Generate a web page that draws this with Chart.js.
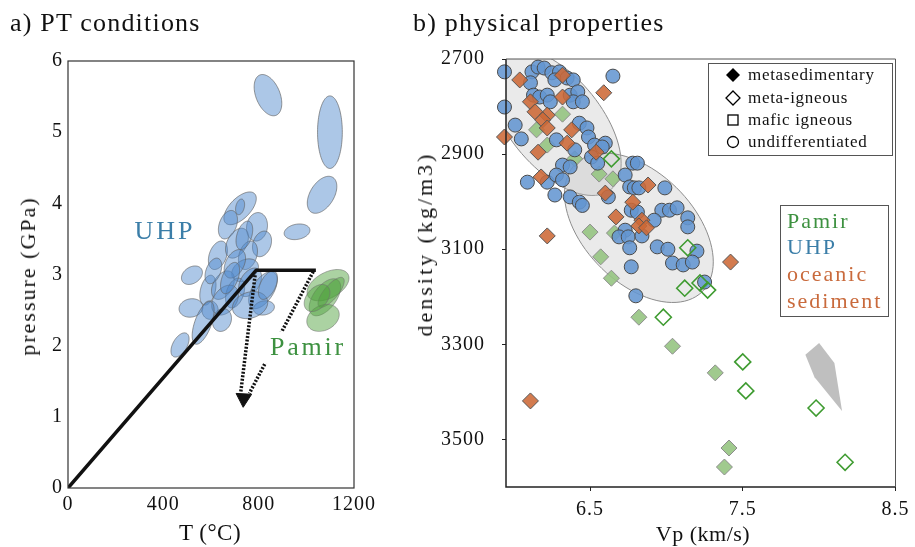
<!DOCTYPE html>
<html>
<head>
<meta charset="utf-8">
<script src="https://cdn.jsdelivr.net/npm/chart.js@4.4.1/dist/chart.umd.min.js"></script>
<style>
  html, body { margin: 0; padding: 0; background: #fff; }
  #wrap { position: relative; width: 915px; height: 547px; overflow: hidden; }
  .txt { position: absolute; font-family: "Liberation Serif", "Times New Roman", serif; color: #111; white-space: nowrap; line-height: 1; }
  .panel { top: 10px; font-size: 26px; letter-spacing: 1.2px; }
  .mid { transform: translate(-50%, -50%); }
  .rot { transform: translate(-50%, -50%) rotate(-90deg); }
  #boxA { position: absolute; left: 0; top: 0; width: 405px; height: 547px; }
  #boxB { position: absolute; left: 405px; top: 0; width: 510px; height: 547px; }
</style>
</head>
<body>
<div id="wrap">
  <div id="boxA"><canvas id="ptChart"></canvas></div>
  <div id="boxB"><canvas id="propChart"></canvas></div>
  <div class="txt panel" style="left:10px">a) PT conditions</div>
  <div class="txt panel" style="left:413px">b) physical properties</div>
  <div class="txt mid" style="left:210px; top:532px; font-size:23px; letter-spacing:0.5px">T (°C)</div>
  <div class="txt rot" style="left:28px; top:276px; font-size:22px; letter-spacing:2px">pressure (GPa)</div>
  <div class="txt mid" style="left:703px; top:534px; font-size:22px; letter-spacing:0.5px">Vp (km/s)</div>
  <div class="txt rot" style="left:425px; top:244px; font-size:22px; letter-spacing:3px">density (kg/m3)</div>
</div>
<script>
// ---------- a) PT conditions ----------
const ptTicksT = [0, 400, 800, 1200];
const ptTicksP = [0, 1, 2, 3, 4, 5, 6];

// UHP estimates: centre T (°C), centre P (GPa), half range T, half range P, T-P correlation
const uhpT   = [839, 1099, 1066, 961, 722, 722, 671, 793, 814, 629, 709, 755, 743, 520, 587, 650, 701, 764, 818, 822, 516, 596, 659, 567, 470, 646, 764, 839, 700, 680, 610, 740];
const uhpP   = [5.52, 5.00, 4.12, 3.60, 3.93, 3.95, 3.70, 3.67, 3.43, 3.27, 3.44, 3.27, 3.06, 2.99, 2.78, 2.85, 2.74, 2.89, 2.78, 2.53, 2.53, 2.50, 2.64, 2.32, 2.01, 2.36, 2.57, 2.85, 3.15, 2.95, 3.05, 3.55];
const uhpSdT = [58, 52, 62, 54, 68, 19, 40, 44, 40, 40, 48, 40, 56, 44, 34, 48, 40, 48, 60, 44, 50, 34, 56, 46, 38, 40, 74, 40, 45, 40, 35, 35];
const uhpSdP = [0.29, 0.51, 0.26, 0.11, 0.23, 0.11, 0.20, 0.20, 0.18, 0.20, 0.21, 0.20, 0.16, 0.13, 0.21, 0.20, 0.21, 0.20, 0.26, 0.10, 0.13, 0.13, 0.21, 0.30, 0.17, 0.16, 0.19, 0.20, 0.20, 0.22, 0.18, 0.20];
const uhpCor = [-0.4, 0, 0.45, 0.2, 0.6, 0.3, 0.35, 0.1, 0.25, 0.35, 0.4, 0.3, 0.3, 0.3, 0.35, 0.4, 0.35, 0.4, 0.55, 0.15, 0.1, 0, 0.35, 0.6, 0.5, 0.15, 0.2, 0.5, 0.4, 0.5, 0.4, 0.4];

// Pamir estimates
const pamirT   = [1091, 1078, 1104, 1070, 1045];
const pamirP   = [2.85, 2.68, 2.75, 2.39, 2.67];
const pamirSdT = [88, 66, 55, 68, 54];
const pamirSdP = [0.22, 0.26, 0.21, 0.19, 0.19];
const pamirCor = [0.45, 0.55, 0.75, 0.25, 0.4];

// burial path and exhumation arrows
const pathT = [0, 790, 1040];
const pathP = [0, 3.06, 3.06];
const exhumeUhpT = [785, 725];
const exhumeUhpP = [2.99, 1.35];
const exhumePamirT = [1029, 761];
const exhumePamirP = [3.04, 1.33];
const arrowT = [737];
const arrowP = [1.26];

const ptLabels = [
  { text: 'UHP', t: 407, p: 3.6, color: '#3b7ea8', spacing: 3, knockout: false },
  { text: 'Pamir', t: 1007, p: 1.97, color: '#3d9140', spacing: 2.8, knockout: true }
];

// ---------- b) physical properties ----------
const vpTicks = [6.5, 7.5, 8.5];
const rhoTicks = [2700, 2900, 3100, 3300, 3500];

// UHP, undifferentiated
const uhpVp  = [5.94, 6.12, 6.16, 6.20, 6.25, 6.30, 6.27, 6.35, 6.39, 6.65,
                6.11, 6.13, 6.17, 6.22, 6.24, 6.37, 6.42, 6.39, 6.45, 5.94,
                6.01, 6.05, 6.28, 6.43, 6.48, 6.49, 6.53, 6.60, 6.40, 6.32,
                6.37, 6.51, 6.55, 6.09, 6.22, 6.28, 6.32, 6.27, 6.37, 6.43,
                6.62, 6.73, 6.78, 6.81, 6.76, 6.79, 6.82, 6.99, 6.77, 6.81,
                6.97, 7.02, 7.07, 7.14, 7.14, 6.92, 6.73, 6.69, 6.75, 6.84,
                6.76, 6.94, 7.01, 7.20, 7.04, 7.11, 7.17, 6.77, 7.25, 6.80,
                6.58, 6.45];
const uhpRho = [2727, 2727, 2717, 2719, 2729, 2727, 2744, 2740, 2744, 2736,
                2750, 2776, 2780, 2776, 2790, 2776, 2769, 2790, 2790, 2801,
                2839, 2868, 2870, 2835, 2845, 2864, 2881, 2877, 2891, 2923,
                2927, 2906, 2919, 2959, 2959, 2944, 2954, 2986, 2990, 3001,
                2990, 2944, 2919, 2919, 2969, 2971, 2971, 2971, 3018, 3022,
                3018, 3018, 3013, 3034, 3053, 3039, 3060, 3074, 3074, 3072,
                3097, 3095, 3100, 3104, 3129, 3133, 3127, 3137, 3169, 3198,
                2885, 3008];

// oceanic sediment, metasedimentary
const sedVp  = [6.04, 6.32, 6.59, 6.11, 6.32, 6.14, 6.22, 6.19, 6.22, 6.38, 6.35, 5.94, 6.16, 6.54, 6.18, 6.60, 6.88, 6.78, 6.67, 6.84, 6.82, 6.87, 6.22, 7.42, 6.11];
const sedRho = [2744, 2734, 2771, 2790, 2780, 2811, 2818, 2828, 2845, 2849, 2877, 2864, 2896, 2896, 2948, 2982, 2965, 3001, 3032, 3039, 3051, 3055, 3072, 3127, 3419];

// Pamir, metasedimentary
const pamirSedVp  = [6.32, 6.15, 6.22, 6.40, 6.56, 6.65, 6.50, 6.66, 6.57, 6.64, 6.82, 7.04, 7.32, 7.41, 7.38];
const pamirSedRho = [2816, 2849, 2881, 2910, 2942, 2952, 3064, 3066, 3116, 3161, 3243, 3304, 3360, 3518, 3558];

// Pamir, meta-igneous
const pamirIgnVp  = [6.64, 7.14, 7.12, 7.22, 7.27, 6.98, 7.50, 7.52, 7.98, 8.17];
const pamirIgnRho = [2910, 3097, 3182, 3171, 3186, 3243, 3337, 3398, 3434, 3548];

// grey UHP fields: centre, half ranges, correlation
const fieldVp    = [6.27, 6.82];
const fieldRho   = [2832, 3055];
const fieldSdVp  = [0.434, 0.487];
const fieldSdRho = [155, 157];
const fieldCor   = [0.565, 0.456];

// grey field at high Vp
const greyVp  = [7.91, 8.00, 8.10, 8.15, 7.97];
const greyRho = [3322, 3297, 3339, 3440, 3369];

// ---------- helpers ----------
const serif = '"Liberation Serif", "Times New Roman", serif';
Chart.defaults.font.family = serif;
Chart.defaults.color = '#111';

const pts = (xs, ys) => xs.map((x, i) => ({ x: x, y: ys[i] }));

function ellipsePath(ctx, xs, ys, cx, cy, sx, sy, r) {
  const k = Math.sqrt(1 - r * r);
  ctx.beginPath();
  for (let i = 0; i <= 90; i++) {
    const a = i / 90 * 2 * Math.PI;
    const px = xs.getPixelForValue(cx + sx * Math.cos(a));
    const py = ys.getPixelForValue(cy + sy * (r * Math.cos(a) + k * Math.sin(a)));
    if (i) ctx.lineTo(px, py); else ctx.moveTo(px, py);
  }
  ctx.closePath();
}

function ellipsePlugin(groups) {
  return {
    id: 'ellipses',
    beforeDatasetsDraw(chart) {
      const { ctx, chartArea: a, scales } = chart;
      ctx.save();
      ctx.beginPath();
      ctx.rect(a.left, a.top, a.width, a.height);
      ctx.clip();
      groups.forEach(g => {
        g.cx.forEach((cx, i) => {
          ellipsePath(ctx, scales.x, scales.y, cx, g.cy[i], g.sx[i], g.sy[i], g.cor[i]);
          ctx.fillStyle = g.fill;
          ctx.fill();
          ctx.strokeStyle = g.stroke;
          ctx.lineWidth = g.width;
          ctx.stroke();
        });
      });
      ctx.restore();
    }
  };
}

const spacingPlugin = {
  id: 'spacing',
  beforeDraw(chart) { chart.ctx.letterSpacing = '1px'; }
};

// ---------- chart a ----------
new Chart(document.getElementById('ptChart'), {
  type: 'scatter',
  data: {
    datasets: [
      { label: 'burial', data: pts(pathT, pathP), showLine: true, borderColor: '#111', borderWidth: 3.5,
        borderJoinStyle: 'round', pointRadius: 0, order: 2 },
      { label: 'exhumation UHP', data: pts(exhumeUhpT, exhumeUhpP), showLine: true, borderColor: '#111',
        borderWidth: 3.5, borderDash: [2, 1.6], pointRadius: 0, order: 1 },
      { label: 'exhumation Pamir', data: pts(exhumePamirT, exhumePamirP), showLine: true, borderColor: '#111',
        borderWidth: 3.5, borderDash: [2, 1.6], pointRadius: 0, order: 1 },
      { label: 'arrow', data: pts(arrowT, arrowP), pointStyle: 'triangle', pointRadius: 9, pointRotation: 183,
        backgroundColor: '#111', borderColor: '#111', borderWidth: 1, order: 0 }
    ]
  },
  options: {
    responsive: true, maintainAspectRatio: false, animation: false,
    layout: { padding: { left: 0, right: 51, top: 61, bottom: 0 } },
    plugins: { legend: { display: false }, tooltip: { enabled: false } },
    scales: {
      x: {
        type: 'linear', min: 0, max: 1200,
        afterBuildTicks: s => { s.ticks = ptTicksT.map(v => ({ value: v })); },
        afterFit: s => { s.height = 59; },
        grid: { display: false, drawTicks: false }, border: { display: false },
        ticks: { font: { size: 20 }, padding: 5, maxRotation: 0, callback: v => String(v) }
      },
      y: {
        type: 'linear', min: 0, max: 6,
        afterBuildTicks: s => { s.ticks = ptTicksP.map(v => ({ value: v })); },
        afterFit: s => { s.width = 68; },
        grid: { display: false, drawTicks: false }, border: { display: false },
        ticks: { font: { size: 20 }, padding: 5, callback: v => String(v) }
      }
    }
  },
  plugins: [
    spacingPlugin,
    ellipsePlugin([
      { cx: uhpT, cy: uhpP, sx: uhpSdT, sy: uhpSdP, cor: uhpCor,
        fill: 'rgba(81,137,205,0.48)', stroke: 'rgba(95,95,95,0.8)', width: 0.8 },
      { cx: pamirT, cy: pamirP, sx: pamirSdT, sy: pamirSdP, cor: pamirCor,
        fill: 'rgba(80,160,60,0.48)', stroke: 'rgba(110,110,110,0.7)', width: 0.8 }
    ]),
    {
      id: 'ptLabels',
      afterDatasetsDraw(chart) {
        const { ctx, scales } = chart;
        ctx.save();
        ctx.font = '26px ' + serif;
        ctx.textAlign = 'center';
        ctx.textBaseline = 'middle';
        ptLabels.forEach(l => {
          ctx.letterSpacing = l.spacing + 'px';
          const x = scales.x.getPixelForValue(l.t);
          const y = scales.y.getPixelForValue(l.p);
          if (l.knockout) {
            const w = ctx.measureText(l.text).width;
            ctx.fillStyle = '#fff';
            ctx.fillRect(x - w / 2 - 6, y - 16, w + 12, 32);
          }
          ctx.fillStyle = l.color;
          ctx.fillText(l.text, x, y);
        });
        ctx.restore();
      }
    },
    {
      id: 'frame',
      afterDraw(chart) {
        const { ctx, chartArea: a } = chart;
        ctx.save();
        ctx.strokeStyle = '#333';
        ctx.lineWidth = 1.2;
        ctx.strokeRect(a.left, a.top, a.width, a.height);
        ctx.restore();
      }
    }
  ]
});

// ---------- chart b ----------
new Chart(document.getElementById('propChart'), {
  type: 'scatter',
  data: {
    datasets: [
      { label: 'grey field', data: pts(greyVp, greyRho), showLine: true, fill: 'shape',
        backgroundColor: '#bfbfbf', borderWidth: 0, borderColor: 'rgba(0,0,0,0)', pointRadius: 0, order: 10 },
      { label: 'Pamir metasedimentary', data: pts(pamirSedVp, pamirSedRho), pointStyle: 'rectRot', pointRadius: 8,
        backgroundColor: 'rgba(150,196,130,0.9)', borderColor: '#8d8d8d', borderWidth: 1, order: 4 },
      { label: 'UHP undifferentiated', data: pts(uhpVp, uhpRho), pointStyle: 'circle', pointRadius: 7,
        backgroundColor: 'rgba(100,150,210,0.88)', borderColor: '#4a4a4a', borderWidth: 1, order: 3 },
      { label: 'oceanic sediment', data: pts(sedVp, sedRho), pointStyle: 'rectRot', pointRadius: 8,
        backgroundColor: 'rgba(205,105,55,0.88)', borderColor: '#555', borderWidth: 1, order: 2 },
      { label: 'Pamir meta-igneous', data: pts(pamirIgnVp, pamirIgnRho), pointStyle: 'rectRot', pointRadius: 8,
        backgroundColor: 'rgba(255,255,255,0)', borderColor: '#3e9b30', borderWidth: 1.6, order: 1 }
    ]
  },
  options: {
    responsive: true, maintainAspectRatio: false, animation: false,
    clip: false,
    layout: { padding: { left: 0, right: 18, top: 59, bottom: 0 } },
    plugins: { legend: { display: false }, tooltip: { enabled: false } },
    scales: {
      x: {
        type: 'linear', min: 5.95, max: 8.5,
        afterBuildTicks: s => { s.ticks = vpTicks.map(v => ({ value: v })); },
        afterFit: s => { s.height = 60; },
        grid: { display: true, drawOnChartArea: false, drawTicks: true, tickLength: 4, color: '#222' },
        border: { display: false },
        ticks: { font: { size: 20 }, padding: 7, maxRotation: 0, callback: v => String(v) }
      },
      y: {
        type: 'linear', min: 2700, max: 3600, reverse: true,
        afterBuildTicks: s => { s.ticks = rhoTicks.map(v => ({ value: v })); },
        afterFit: s => { s.width = 101; },
        grid: { display: true, drawOnChartArea: false, drawTicks: true, tickLength: 4, color: '#222' },
        border: { display: false },
        ticks: { font: { size: 20 }, padding: 17, callback: v => String(v) }
      }
    }
  },
  plugins: [
    spacingPlugin,
    ellipsePlugin([
      { cx: fieldVp, cy: fieldRho, sx: fieldSdVp, sy: fieldSdRho, cor: fieldCor,
        fill: 'rgba(190,190,190,0.32)', stroke: '#8c8c8c', width: 1 }
    ]),
    {
      id: 'frameLegend',
      afterDraw(chart) {
        const { ctx, chartArea: a } = chart;
        ctx.save();
        // frame
        ctx.lineWidth = 1.5;
        ctx.strokeStyle = '#222';
        ctx.beginPath();
        ctx.moveTo(a.left, a.top); ctx.lineTo(a.left, a.bottom); ctx.lineTo(a.right, a.bottom);
        ctx.stroke();
        ctx.lineWidth = 1;
        ctx.strokeStyle = '#555';
        ctx.beginPath();
        ctx.moveTo(a.left, a.top); ctx.lineTo(a.right, a.top); ctx.lineTo(a.right, a.bottom);
        ctx.stroke();

        // legend of rock types
        ctx.strokeStyle = '#555';
        ctx.lineWidth = 1;
        ctx.strokeRect(303.5, 63.5, 184, 92);
        const mx = 328;
        const rows = [75, 98, 120, 142];
        ctx.fillStyle = '#000';
        ctx.strokeStyle = '#000';
        ctx.lineWidth = 1.3;
        ctx.beginPath();
        ctx.moveTo(mx, rows[0] - 7); ctx.lineTo(mx + 7, rows[0]); ctx.lineTo(mx, rows[0] + 7); ctx.lineTo(mx - 7, rows[0]);
        ctx.closePath(); ctx.fill();
        ctx.beginPath();
        ctx.moveTo(mx, rows[1] - 7); ctx.lineTo(mx + 7, rows[1]); ctx.lineTo(mx, rows[1] + 7); ctx.lineTo(mx - 7, rows[1]);
        ctx.closePath(); ctx.stroke();
        ctx.strokeRect(mx - 5, rows[2] - 5, 10, 10);
        ctx.beginPath();
        ctx.arc(mx, rows[3], 5.5, 0, 2 * Math.PI);
        ctx.stroke();
        ctx.font = '17px ' + serif;
        ctx.letterSpacing = '0.7px';
        ctx.textAlign = 'left';
        ctx.textBaseline = 'middle';
        ctx.fillStyle = '#111';
        ['metasedimentary', 'meta-igneous', 'mafic igneous', 'undifferentiated'].forEach((t, i) => {
          ctx.fillText(t, 343, rows[i] + 1);
        });

        // legend of groups
        ctx.strokeStyle = '#555';
        ctx.lineWidth = 1;
        ctx.strokeRect(375.5, 205.5, 108, 111);
        ctx.font = '22px ' + serif;
        ctx.letterSpacing = '2px';
        [['Pamir', '#3d9140', 222], ['UHP', '#3b7ea8', 248], ['oceanic', '#c96a3c', 275], ['sediment', '#c96a3c', 302]]
          .forEach(r => { ctx.fillStyle = r[1]; ctx.fillText(r[0], 382, r[2]); });
        ctx.restore();
      }
    }
  ]
});
</script>
</body>
</html>
